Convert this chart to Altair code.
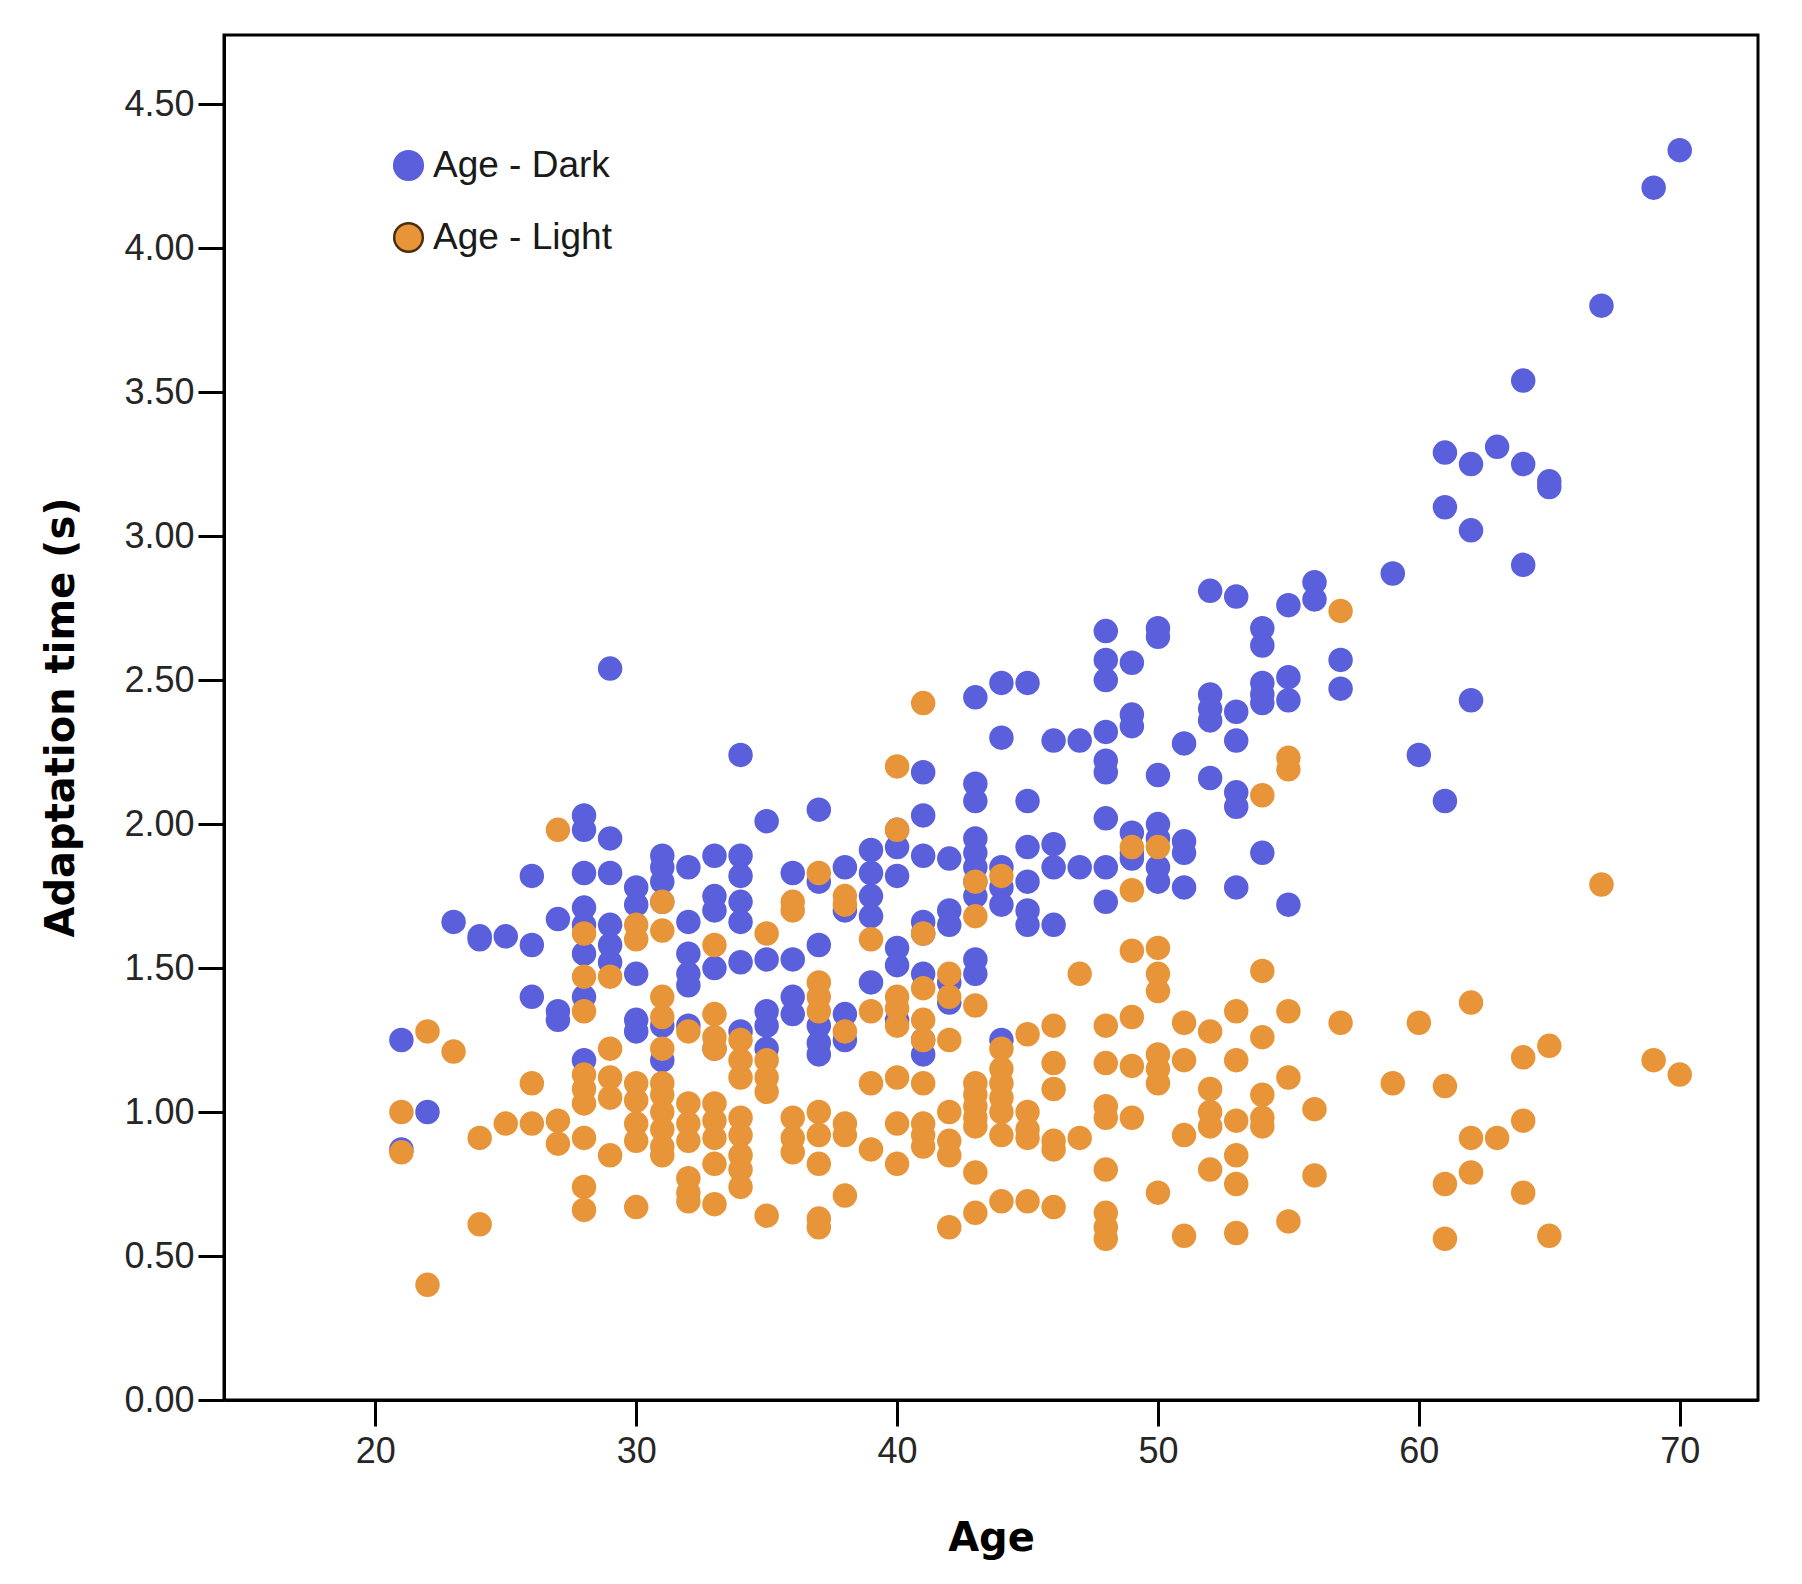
import altair as alt
import pandas as pd

# Adaptation time (s) by age
dark_by_age = {
    21: [1.25, 0.87], 22: [1.00], 23: [1.66], 24: [1.61, 1.60], 25: [1.61],
    26: [1.82, 1.58, 1.40], 27: [1.67, 1.35, 1.32],
    28: [2.03, 1.98, 1.83, 1.71, 1.65, 1.55, 1.40, 1.18],
    29: [2.54, 1.95, 1.83, 1.65, 1.58, 1.52],
    30: [1.78, 1.72, 1.48, 1.32, 1.28],
    31: [1.89, 1.85, 1.80, 1.73, 1.30, 1.18],
    32: [1.85, 1.66, 1.55, 1.48, 1.44, 1.30],
    33: [1.89, 1.75, 1.70, 1.50, 1.22],
    34: [2.24, 1.89, 1.82, 1.73, 1.66, 1.52, 1.28],
    35: [2.01, 1.53, 1.35, 1.30, 1.22],
    36: [1.83, 1.53, 1.40, 1.34],
    37: [2.05, 1.80, 1.58, 1.30, 1.24, 1.20],
    38: [1.85, 1.70, 1.34, 1.25],
    39: [1.91, 1.83, 1.75, 1.68, 1.45],
    40: [1.98, 1.92, 1.82, 1.57, 1.51, 1.32],
    41: [2.18, 2.03, 1.89, 1.66, 1.62, 1.48, 1.25, 1.20],
    42: [1.88, 1.70, 1.65, 1.45, 1.38],
    43: [2.44, 2.14, 2.08, 1.95, 1.90, 1.85, 1.80, 1.75, 1.53, 1.48],
    44: [2.49, 2.30, 1.85, 1.78, 1.72, 1.25],
    45: [2.49, 2.08, 1.92, 1.80, 1.70, 1.65],
    46: [2.29, 1.93, 1.85, 1.65],
    47: [2.29, 1.85],
    48: [2.67, 2.57, 2.50, 2.32, 2.22, 2.18, 2.02, 1.85, 1.73],
    49: [2.56, 2.38, 2.34, 1.97, 1.90, 1.88],
    50: [2.68, 2.65, 2.17, 2.00, 1.95, 1.85, 1.80],
    51: [2.28, 1.94, 1.90, 1.78],
    52: [2.81, 2.45, 2.40, 2.36, 2.16],
    53: [2.79, 2.39, 2.29, 2.11, 2.06, 1.78],
    54: [2.68, 2.62, 2.49, 2.45, 2.42, 1.90],
    55: [2.76, 2.51, 2.43, 1.72],
    56: [2.84, 2.78], 57: [2.57, 2.47], 59: [2.87], 60: [2.24],
    61: [3.29, 3.10, 2.08], 62: [3.25, 3.02, 2.43], 63: [3.31],
    64: [3.54, 3.25, 2.90], 65: [3.19, 3.17], 67: [3.80], 69: [4.21], 70: [4.34],
}

light_by_age = {
    21: [1.00, 0.86], 22: [1.28, 0.40], 23: [1.21], 24: [0.91, 0.61], 25: [0.96],
    26: [1.10, 0.96], 27: [1.98, 0.97, 0.89],
    28: [1.62, 1.47, 1.35, 1.13, 1.08, 1.03, 0.91, 0.74, 0.66],
    29: [1.47, 1.22, 1.12, 1.05, 0.85],
    30: [1.65, 1.60, 1.10, 1.04, 0.96, 0.90, 0.67],
    31: [1.73, 1.63, 1.40, 1.33, 1.22, 1.10, 1.06, 1.00, 0.94, 0.88, 0.85],
    32: [1.28, 1.03, 0.96, 0.90, 0.77, 0.72, 0.69],
    33: [1.58, 1.34, 1.26, 1.22, 1.03, 0.97, 0.91, 0.82, 0.68],
    34: [1.25, 1.18, 1.12, 0.98, 0.92, 0.85, 0.80, 0.74],
    35: [1.62, 1.18, 1.12, 1.07, 0.64],
    36: [1.73, 1.70, 0.98, 0.91, 0.86],
    37: [1.83, 1.45, 1.40, 1.35, 1.00, 0.92, 0.82, 0.63, 0.60],
    38: [1.75, 1.72, 1.28, 0.96, 0.92, 0.71],
    39: [1.60, 1.35, 1.10, 0.87],
    40: [2.20, 1.98, 1.40, 1.36, 1.30, 1.12, 0.96, 0.82],
    41: [2.42, 1.62, 1.43, 1.32, 1.25, 1.10, 0.96, 0.92, 0.88],
    42: [1.48, 1.40, 1.25, 1.00, 0.90, 0.85, 0.60],
    43: [1.80, 1.68, 1.37, 1.10, 1.06, 1.02, 0.98, 0.95, 0.79, 0.65],
    44: [1.82, 1.22, 1.15, 1.10, 1.05, 1.00, 0.92, 0.69],
    45: [1.27, 1.00, 0.94, 0.91, 0.69],
    46: [1.30, 1.17, 1.08, 0.90, 0.87, 0.67],
    47: [1.48, 0.91],
    48: [1.30, 1.17, 1.02, 0.98, 0.80, 0.65, 0.60, 0.56],
    49: [1.92, 1.77, 1.56, 1.33, 1.16, 0.98],
    50: [1.92, 1.57, 1.48, 1.42, 1.20, 1.15, 1.10, 0.72],
    51: [1.31, 1.18, 0.92, 0.57],
    52: [1.28, 1.08, 1.00, 0.95, 0.80],
    53: [1.35, 1.18, 0.97, 0.85, 0.75, 0.58],
    54: [2.10, 1.49, 1.26, 1.06, 0.98, 0.95],
    55: [2.23, 2.19, 1.35, 1.12, 0.62],
    56: [1.01, 0.78], 57: [2.74, 1.31], 59: [1.10], 60: [1.31],
    61: [1.09, 0.75, 0.56], 62: [1.38, 0.91, 0.79], 63: [0.91],
    64: [1.19, 0.97, 0.72], 65: [1.23, 0.57], 67: [1.79], 69: [1.18], 70: [1.13],
}

series_names = ["Age - Dark", "Age - Light"]
series_fill = ["#5A5FDC", "#E8953A"]
series_edge = ["#5A5FDC", "#4A2E0E"]
x_ticks = [20, 30, 40, 50, 60, 70]
y_ticks = [0.0, 0.5, 1.0, 1.5, 2.0, 2.5, 3.0, 3.5, 4.0, 4.5]

rows = []
for name, table in zip(series_names, [dark_by_age, light_by_age]):
    for age, vals in table.items():
        for v in vals:
            rows.append({"Age": age, "Time": v, "Series": name})
df = pd.DataFrame(rows)

label_font = "Liberation Sans"
title_font = "DejaVu Sans"

x_enc = alt.X("Age:Q", scale=alt.Scale(domain=[14.2, 73.0], nice=False, zero=False),
              axis=alt.Axis(values=x_ticks, title="Age", titleX=767, titleY=138,
                            titleBaseline="middle", labelPadding=8))
y_enc = alt.Y("Time:Q", scale=alt.Scale(domain=[0, 4.74], nice=False),
              axis=alt.Axis(values=y_ticks, format=".2f", title="Adaptation time (s)",
                            titleX=-163, titleY=682, titleBaseline="middle",
                            labelPadding=4))

leg = alt.Legend(title=None, orient="none", legendX=166, legendY=112,
                 labelFont=label_font, labelFontSize=37, labelColor="#1a1a1a",
                 symbolSize=820, symbolType="circle", symbolStrokeWidth=2.5,
                 rowPadding=33, labelOffset=6, labelLimit=400)

color_scale = alt.Scale(domain=series_names, range=series_fill)

legend_layer = alt.Chart(df).transform_filter("false").mark_circle(
    size=600, opacity=1, strokeWidth=2.5).encode(
    x=x_enc, y=y_enc,
    color=alt.Color("Series:N", scale=color_scale, legend=leg),
    stroke=alt.Stroke("Series:N", scale=alt.Scale(domain=series_names, range=series_edge),
                      legend=leg),
)

points = alt.Chart(df).mark_circle(size=600, opacity=1).encode(
    x=x_enc, y=y_enc,
    color=alt.Color("Series:N", scale=color_scale, legend=leg),
)

chart = alt.layer(legend_layer, points).properties(
    width=1534, height=1365,
    autosize=alt.AutoSizeParams(type="none"),
    padding={"left": 216, "top": 27, "right": 36, "bottom": 170},
    background="white",
).configure_view(
    stroke="black", strokeWidth=3
).configure_axis(
    grid=False,
    domainColor="black", domainWidth=3,
    tickColor="black", tickWidth=3, tickSize=26,
    labelFont=label_font, labelFontSize=36, labelColor="#262626",
    titleFont=title_font, titleFontSize=40, titleFontWeight="bold", titleColor="black",
)

chart.save("out.html", embed_options={"renderer": "svg", "actions": False})
